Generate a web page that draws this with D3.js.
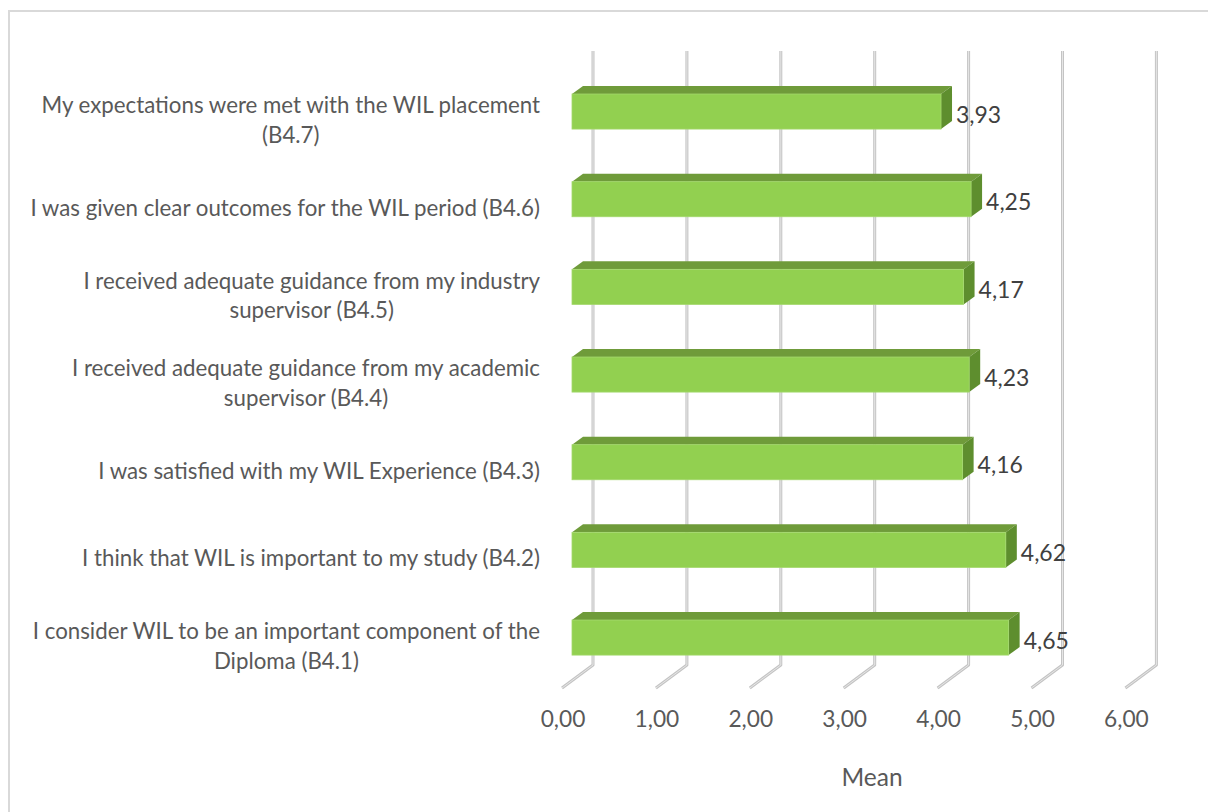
<!DOCTYPE html>
<html><head><meta charset="utf-8">
<script src="https://cdn.jsdelivr.net/npm/d3@7"></script>
<style>body{margin:0;background:#fff}svg{display:block}</style>
</head><body>
<svg id="c" width="1208" height="812"></svg>
<script>
const categories = ["B4.7","B4.6","B4.5","B4.4","B4.3","B4.2","B4.1"];
const labelLines = [
  ["My expectations were met with the WIL placement","(B4.7)"],
  ["I was given clear outcomes for the WIL period (B4.6)"],
  ["I received adequate guidance from my industry","supervisor (B4.5)"],
  ["I received adequate guidance from my academic","supervisor (B4.4)"],
  ["I was satisfied with my WIL Experience (B4.3)"],
  ["I think that WIL is important to my study (B4.2)"],
  ["I consider WIL to be an important component of the","Diploma (B4.1)"]
];
const means = [3.93, 4.25, 4.17, 4.23, 4.16, 4.62, 4.65];
const tickValues = [0,1,2,3,4,5,6];
const axisTitle = "Mean";

const svg = d3.select("#c");
const FONT = "Lato, 'Open Sans', sans-serif";
const fmt = v => d3.format(".2f")(v).replace(".", ",");

// border
svg.append("rect").attr("x",9).attr("y",11).attr("width",1210).attr("height",812)
  .attr("fill","#fff").attr("stroke","#d9d9d9").attr("stroke-width",2);

// depth geometry
const depthDX = 31, depthDY = 23;
const xBack = d3.scaleLinear().domain([0,6]).range([593, 1156.4]);
const xFront = v => xBack(v) - depthDX;
const backTop = 51, backBottom = 665;

const y = d3.scaleBand().domain(categories).range([67.7, 681.4]).paddingInner(0.6).paddingOuter(0.3);

// font fitting
const measure = svg.append("text").attr("font-family", FONT).attr("font-size", 100)
  .text("I was given clear outcomes for the WIL period (B4.6)");
const w100 = measure.node().getComputedTextLength();
measure.remove();
const catSize = 100 * 510 / w100;

// gridlines
const grid = svg.append("g");
tickValues.forEach(v => {
  const pts = [[xBack(v), backTop],[xBack(v), backBottom],[xFront(v), backBottom + depthDY]];
  const line = d3.line();
  grid.append("path").attr("d", line(pts)).attr("fill","none")
    .attr("stroke","#c4c4c4").attr("stroke-width",3).attr("stroke-linejoin","round");
  grid.append("path").attr("d", line(pts)).attr("fill","none")
    .attr("stroke","#e6e6e6").attr("stroke-width",1).attr("stroke-linejoin","round");
});

// bars
const bdx = 11, bdy = 8;
const barOff = 10; // front face offset from floor front
const bx0 = xFront(0) + barOff;
const bxs = v => xFront(v) + barOff;
const bars = svg.append("g");
categories.forEach((c,i) => {
  const v = means[i];
  const x0 = bx0, x1 = bxs(v), t = y(c), b = y(c) + y.bandwidth();
  bars.append("path").attr("d", d3.line()([[x0,t],[x0+bdx,t-bdy],[x1+bdx,t-bdy],[x1,t]]) + "Z")
    .attr("fill","#6f9b3a");
  bars.append("path").attr("d", d3.line()([[x1,t],[x1+bdx,t-bdy],[x1+bdx,b-bdy],[x1,b]]) + "Z")
    .attr("fill","#5e8e2e");
  bars.append("rect").attr("x",x0).attr("y",t).attr("width",x1-x0).attr("height",b-t)
    .attr("fill","#92d050").attr("stroke","#a3d86c").attr("stroke-width",0.8);
  svg.append("text").attr("x", x1 + bdx + 4).attr("y", (t+b)/2 + 2)
    .attr("dominant-baseline","central").attr("font-family",FONT).attr("font-size",catSize*1.03)
    .attr("fill","#404040").text(fmt(v));
});

// category labels
categories.forEach((c,i) => {
  const lines = labelLines[i];
  const cy = y(c) + y.bandwidth()/2 + 8;
  const g = svg.append("g");
  const texts = lines.map((l,j) => g.append("text").attr("font-family",FONT).attr("font-size",catSize)
    .attr("fill","#595959").attr("text-anchor","middle").attr("dominant-baseline","central").text(l));
  const maxW = d3.max(texts, t => t.node().getComputedTextLength());
  const cx = 540 - maxW/2;
  const lh = 29.5;
  texts.forEach((t,j) => t.attr("x", cx).attr("y", cy + (j - (lines.length-1)/2) * lh));
});

// tick labels
tickValues.forEach(v => {
  svg.append("text").attr("x", xFront(v) + 1).attr("y", 718).attr("text-anchor","middle")
    .attr("dominant-baseline","central").attr("font-family",FONT).attr("font-size",catSize*1.02)
    .attr("fill","#595959").text(fmt(v));
});

// axis title
svg.append("text").attr("x", 872).attr("y", 776).attr("text-anchor","middle")
  .attr("dominant-baseline","central").attr("font-family",FONT).attr("font-size",catSize*1.1)
  .attr("fill","#595959").text(axisTitle);
</script>
</body></html>
